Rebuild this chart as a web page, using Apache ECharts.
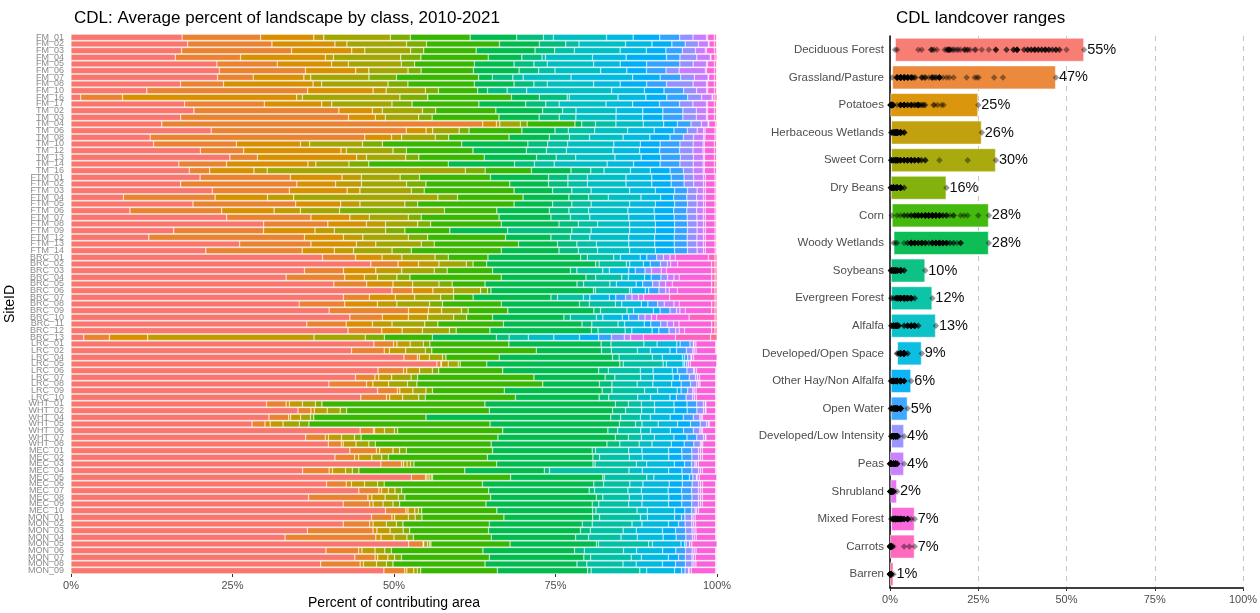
<!DOCTYPE html>
<html>
<head>
<meta charset="utf-8">
<script src="https://cdn.jsdelivr.net/npm/echarts@6/dist/echarts.min.js"></script>
<style>
html, body { margin: 0; padding: 0; background: #fff; }
#main { width: 1260px; height: 613px; }
</style>
</head>
<body>
<div id="main"></div>
<script>
// land cover classes, in stacking order, with the ggplot hue colours
const classes = ['Deciduous Forest', 'Grassland/Pasture', 'Potatoes', 'Herbaceous Wetlands', 'Sweet Corn',
  'Dry Beans', 'Corn', 'Woody Wetlands', 'Soybeans', 'Evergreen Forest', 'Alfalfa', 'Developed/Open Space',
  'Other Hay/Non Alfalfa', 'Open Water', 'Developed/Low Intensity', 'Peas', 'Shrubland', 'Mixed Forest',
  'Carrots', 'Barren'];
const colors = ['#F8766D', '#EA8331', '#D89000', '#C09B00', '#A3A500', '#7CAE00', '#39B600', '#00BB4E',
  '#00BF7D', '#00C1A3', '#00BFC4', '#00BAE0', '#00B0F6', '#35A2FF', '#9590FF', '#C77CFF', '#E76BF3',
  '#FA62DB', '#FF62BC', '#FF6C91'];

// average percent of each class per site (same order as classes)
const fmSites = ['FM_01', 'FM_02', 'FM_03', 'FM_04', 'FM_05', 'FM_06', 'FM_07', 'FM_08', 'FM_10', 'FM_16', 'FM_17'];
const fmShares = [
  [16.7, 11.8, 8, 1.5, 10, 3, 9, 7, 4, 1.5, 8, 4, 4, 3, 2, 2, 0.2, 1, 0.3, 0.1],
  [17.6, 12.7, 9.5, 1.8, 9, 3, 11, 6, 4, 2, 7, 4, 3, 2, 2, 1.5, 0.1, 0.8, 0.3, 0.1],
  [16.9, 16.8, 9.2, 2, 7, 2, 8, 9, 3, 3, 7, 4, 3, 2.5, 2, 1.5, 0.2, 1.2, 0.3, 0.1],
  [15.5, 9.7, 12.6, 1.2, 10, 3, 10, 5, 3, 0.5, 7, 5, 6, 2, 2.5, 2, 0.1, 0.6, 0.3, 0],
  [22, 9.1, 8.2, 2.5, 8, 2, 9, 6, 3, 2, 7, 4, 4, 5, 2, 2, 0.2, 1, 0.3, 0.1],
  [22.7, 13.2, 7.7, 2, 6, 2, 8, 7, 3, 2.5, 7, 4, 3, 3, 2, 4, 0.2, 1.2, 0.3, 0.1],
  [21.4, 5.2, 7.4, 1, 8.5, 4, 12, 2, 3, 1.5, 7, 9, 4, 3, 2, 2, 0.1, 0.8, 0.3, 0.1],
  [16.5, 6.5, 13.5, 1.3, 10, 3, 10, 6, 3, 2, 7, 4, 4, 3, 4, 2, 0.2, 1, 0.3, 0.1],
  [11.6, 24.6, 10, 2, 6, 2, 6, 1.5, 3, 3, 13, 5, 3, 3, 2, 1.5, 0.2, 1, 0.3, 0.1],
  [1.4, 6, 25, 0.8, 14, 4, 12, 4, 4, 0.3, 7, 4, 3, 3, 2, 1.5, 0.1, 0.3, 0.3, 0],
  [17, 11.9, 8.6, 1.5, 9, 3, 10, 7, 3, 2, 7, 4, 4, 3, 2, 2, 0.2, 1, 0.3, 0.1]
];
const tmSites = ['TM_02', 'TM_03', 'TM_04', 'TM_06', 'TM_08', 'TM_10', 'TM_12', 'TM_13', 'TM_14', 'TM_16'];
const tmShares = [
  [18.4, 21.7, 5, 1.5, 6, 2, 9, 7, 3, 2, 6, 4, 3, 3, 2, 1.5, 0.2, 1, 0.3, 0.1],
  [16.4, 25.1, 4, 1.5, 5, 2, 10, 6, 3, 2.5, 6, 4, 3, 3, 2, 1.5, 0.2, 1, 0.3, 0.1],
  [13.3, 47, 2, 0.5, 3, 1, 7, 1, 2, 3, 4, 3, 2, 2, 1.5, 1, 0.1, 1, 0.2, 0],
  [21.2, 29.5, 3, 1, 4, 1.5, 8, 5, 2, 4, 5, 4, 3, 2, 1.5, 1, 0.2, 1.5, 0.2, 0.1],
  [11.8, 32, 4, 1.5, 5, 2, 9, 6, 3, 3, 5, 4, 3, 2, 1.5, 1.5, 0.2, 1.5, 0.2, 0.1],
  [12.5, 12.5, 9.7, 1.4, 8, 3, 12, 10, 3, 3, 7, 4, 3, 3, 2, 1.5, 0.2, 1.5, 0.3, 0.1],
  [19.4, 6.5, 14.6, 0.8, 7, 2, 10, 8, 3, 3, 7, 4, 3, 3, 2, 1.5, 0.2, 1.5, 0.3, 0.1],
  [24.3, 4.2, 15.2, 1.5, 6, 2, 10, 8, 3, 3, 6, 4, 3, 3, 2, 1.5, 0.2, 1.5, 0.3, 0.1],
  [16.3, 7.2, 12.3, 1.2, 5, 3, 12, 10, 3, 3, 8, 4, 4, 3, 2, 1.5, 0.2, 1.5, 0.3, 0.1],
  [17.9, 3.1, 6.7, 2, 30, 3, 7, 6, 3, 2, 4, 3, 3, 2, 1.5, 1.5, 0.2, 1.5, 0.3, 0.1]
];
const ftmSites = ['FTM_01', 'FTM_02', 'FTM_03', 'FTM_04', 'FTM_05', 'FTM_06', 'FTM_07', 'FTM_08', 'FTM_09',
  'FTM_12', 'FTM_13', 'FTM_14'];
const ftmShares = [
  [20, 14, 8, 3, 6, 3, 11, 9, 3, 3, 6, 4, 3, 2, 1.5, 1.5, 0.3, 1.5, 0.2, 0.1],
  [17, 18, 6, 4, 7, 3, 13, 6, 3, 3, 6, 4, 3, 2, 1.5, 1.5, 0.3, 1.5, 0.2, 0.1],
  [22, 12, 9, 2, 8, 2, 14, 6, 3, 3, 6, 4, 3, 2, 1.5, 1, 0.3, 1.5, 0.2, 0.1],
  [8, 14, 8, 4, 22, 3, 10, 7, 3, 3, 5, 3, 2, 2, 1.5, 1, 0.3, 1.5, 0.2, 0.1],
  [19, 16, 7, 3, 7, 2, 15, 6, 3, 3, 6, 4, 3, 2, 1.5, 1, 0.3, 1.5, 0.2, 0.1],
  [9, 14, 8, 4, 6, 16, 8, 8, 3, 3, 6, 4, 3, 2, 1.5, 1, 0.3, 1.5, 0.2, 0.1],
  [24, 13, 6, 3, 6, 2, 12, 8, 3, 3, 6, 4, 3, 2, 1.5, 1, 0.3, 1.5, 0.2, 0.1],
  [30, 10, 6, 3, 5, 2, 11, 9, 3, 3, 5, 4, 3, 2, 1.5, 1, 0.3, 1.5, 0.2, 0.1],
  [16, 14, 8, 3, 8, 3, 7, 9, 10, 3, 6, 4, 3, 2, 1.5, 1, 0.3, 1.5, 0.2, 0.1],
  [12, 24, 6, 3, 7, 3, 12, 7, 3, 3, 6, 4, 3, 2, 1.5, 1, 0.3, 1.5, 0.2, 0.1],
  [26, 11, 7, 3, 7, 2, 13, 6, 3, 3, 5, 4, 3, 2, 1.5, 1, 0.3, 1.5, 0.2, 0.1],
  [21, 15, 5, 3, 6, 3, 14, 9, 3, 3, 5, 4, 3, 2, 1.5, 1, 0.3, 1.5, 0.2, 0.1]
];
const brcSites = ['BRC_01', 'BRC_02', 'BRC_03', 'BRC_04', 'BRC_05', 'BRC_06', 'BRC_07', 'BRC_08', 'BRC_09',
  'BRC_10', 'BRC_11', 'BRC_12', 'BRC_13'];
const brcShares = [
  [38, 5, 4, 3, 5, 2, 6, 14, 1, 4, 1, 3, 1, 1.5, 1, 1, 0.8, 5, 1, 0.3],
  [44, 4, 3, 3, 4, 1, 2, 16, 0.5, 4, 0.5, 2, 1, 1.5, 1, 0.5, 1, 5, 0.5, 0.3],
  [36, 6, 5, 4, 5, 2, 7, 12, 1, 4, 1, 3, 1, 1.5, 1, 1.5, 0.8, 7, 0.5, 0.3],
  [33, 9, 3, 2, 3, 2, 14, 13, 1.5, 4, 1, 2.5, 1, 1.5, 1, 1, 0.8, 5, 0.5, 0.3],
  [40, 5, 4, 3, 4, 2, 5, 14, 1, 4, 1, 3, 1, 1.5, 1, 1, 1, 6, 0.5, 0.3],
  [47, 3, 3, 3, 4, 1, 0.5, 15, 0.3, 5, 0.3, 2, 0.5, 1.5, 1, 0.5, 1.2, 5, 0.5, 0.3],
  [42, 4, 4, 3, 4, 2, 3, 12, 1, 4, 1, 3, 1, 1.5, 1, 1, 0.8, 4, 7, 0.3],
  [35, 7, 5, 3, 5, 2, 9, 12, 1.5, 4, 1, 3, 1, 1.5, 1, 1.5, 0.8, 5, 0.5, 0.3],
  [39, 12, 3, 2, 3, 1, 6, 13, 1, 4, 1, 3, 1, 1.5, 1, 0.5, 0.8, 4, 0.5, 0.3],
  [43, 5, 4, 3, 4, 2, 4, 11, 1, 4, 1, 3, 1, 1.5, 1, 1, 0.8, 5, 4, 0.3],
  [36, 6, 4, 3, 5, 2, 10, 12, 1.5, 4, 1, 3, 1, 1.5, 1, 1, 0.8, 5, 0.5, 0.3],
  [41, 5, 3, 3, 4, 1, 5, 15, 1, 4, 1, 3, 1, 1.5, 1, 0.5, 0.8, 4, 0.5, 0.3],
  [2, 4, 6, 26, 8, 3, 7.5, 10, 2, 3, 4, 4, 3, 2, 2, 1, 2, 5, 5.5, 1]
];
const lrcSites = ['LRC_01', 'LRC_02', 'LRC_04', 'LRC_05', 'LRC_06', 'LRC_07', 'LRC_08', 'LRC_09', 'LRC_10'];
const lrcShares = [
  [46, 3, 0.5, 2, 2, 1, 12, 14, 1.5, 5, 2, 3, 0.5, 1.5, 0.5, 0.1, 0.3, 3, 0.1, 0.1],
  [43, 5, 0.8, 2.5, 3, 1, 16, 10, 1.5, 4, 2, 3, 1, 1.5, 1, 0.2, 0.3, 3, 0.1, 0.1],
  [50, 2, 0.3, 1.5, 2, 0.5, 8, 17, 1, 5, 1.5, 3, 0.3, 0.5, 0.5, 0.1, 0.3, 3.5, 0, 0],
  [55, 0.6, 0.1, 1, 1.5, 0.3, 4, 20, 0.5, 6, 0.5, 2.5, 0.2, 0.3, 0.3, 0, 0.3, 4, 0, 0],
  [48, 4, 0.5, 2, 2, 1, 10, 15, 1.5, 5, 2, 3, 0.8, 1.5, 1, 0.2, 0.3, 3, 0.1, 0.1],
  [44, 3, 0.6, 2, 3, 1, 18, 11, 1.5, 4, 2, 3, 1, 1.5, 1, 0.3, 0.3, 2.5, 0.1, 0.1],
  [41, 6, 1, 2.5, 3, 1.5, 20, 9, 2, 4, 2.5, 3, 1.5, 1.5, 1, 0.3, 0.2, 2.5, 0.1, 0.1],
  [47, 3, 0.4, 2, 2, 1, 11, 15, 1.5, 5, 2, 3, 0.6, 1, 0.8, 0.2, 0.3, 3, 0.1, 0.1],
  [45, 4, 0.5, 2, 2.5, 1, 14, 13, 1.5, 4.5, 2, 3, 1, 1.5, 1, 0.3, 0.3, 3, 0.1, 0.1]
];
const whtSites = ['WHT_01', 'WHT_02', 'WHT_04', 'WHT_05', 'WHT_06', 'WHT_07', 'WHT_08'];
const whtShares = [
  [30, 3, 0.5, 2, 2, 1, 25, 20, 2, 2, 2, 3, 2, 1.5, 1, 0.3, 0.1, 1.5, 0.1, 0.1],
  [35, 2, 0.5, 2, 2, 1, 22, 19, 2, 2.5, 2, 3, 2, 1.5, 1, 0.3, 0.1, 1.5, 0.1, 0.1],
  [30, 3, 0.3, 1.5, 1.5, 0.5, 17, 28, 1.5, 3, 1.5, 3, 2, 1.5, 1, 0.2, 0.2, 2, 0.1, 0.1],
  [28, 2, 0.8, 2, 2.5, 1.5, 28, 20, 2.5, 1, 2.5, 3, 2, 1.5, 1, 0.3, 0.1, 1, 0.1, 0.1],
  [44, 2, 0.2, 1.5, 1.5, 0.5, 16, 16, 1.5, 3.5, 1.5, 3, 2, 1.5, 1, 0.2, 0.2, 2, 0.1, 0.1],
  [36, 3, 0.5, 2, 2, 1, 21, 18, 2, 2, 2, 3, 2, 1.5, 1, 0.3, 0.1, 1.5, 0.1, 0.1],
  [40, 2, 0.3, 2, 2, 1, 18, 18, 2, 3, 2, 3, 2, 1.5, 1, 0.2, 0.2, 2, 0.1, 0.1]
];
const mecSites = ['MEC_01', 'MEC_02', 'MEC_03', 'MEC_04', 'MEC_05', 'MEC_06', 'MEC_07', 'MEC_08', 'MEC_09', 'MEC_10'];
const mecShares = [
  [42, 4, 0.5, 2, 1, 1, 13, 15, 0.5, 5, 2, 4, 2, 1.5, 1, 0.3, 0.3, 2, 0.1, 0.1],
  [40, 3, 0.6, 2, 1.5, 1, 15, 16, 1, 4.5, 2, 4, 2, 1.5, 1, 0.3, 0.3, 2, 0.1, 0.1],
  [45, 3, 0.3, 0.5, 0.5, 0.5, 12, 14, 0.3, 6, 1.5, 4, 1.5, 1, 0.5, 0.2, 0.3, 2.5, 0.1, 0.1],
  [35, 4, 0.5, 2, 1, 1, 16, 12, 0.8, 12, 2, 4, 2, 1.5, 1, 0.3, 0.3, 2, 0.1, 0.1],
  [48, 2, 0.2, 0.3, 0.3, 0.2, 11, 13, 0.2, 6, 1, 4, 1, 0.5, 0.5, 0.1, 0.3, 2.5, 0, 0],
  [39, 3, 0.8, 2, 2, 1, 15, 17, 1.5, 4, 2, 4, 2, 1.5, 1, 0.3, 0.3, 2, 0.1, 0.1],
  [43, 3, 0.4, 1, 1, 1, 13, 15, 0.8, 5, 2, 4, 2, 1.5, 1, 0.3, 0.3, 2, 0.1, 0.1],
  [36, 9, 0.6, 2, 2, 1, 13, 16, 1, 4, 2, 4, 2, 1.5, 1, 0.3, 0.3, 2, 0.1, 0.1],
  [41, 4, 0.5, 1.5, 1.5, 1, 13, 16, 1, 4.5, 2, 4, 2, 1.5, 1, 0.3, 0.3, 2, 0.1, 0.1],
  [46, 3, 0.3, 1, 0.5, 0.5, 11, 14, 0.5, 6, 1.5, 4, 1.5, 1, 0.5, 0.2, 0.3, 2.5, 0.1, 0.1]
];
const monSites = ['MON_01', 'MON_02', 'MON_03', 'MON_04', 'MON_05', 'MON_06', 'MON_07', 'MON_08', 'MON_09'];
const monShares = [
  [44, 3, 0.4, 2, 1, 1, 12, 13, 1, 6, 1, 4, 1, 0.5, 1, 0.2, 0.3, 3, 0.1, 0.1],
  [41, 4, 0.5, 2, 1.5, 1, 13, 14, 1.5, 6, 1.5, 4, 1.5, 1, 1, 0.3, 0.3, 3, 0.1, 0.1],
  [36, 10, 0.6, 2, 2, 1, 12, 14, 1.5, 5, 2, 4, 2, 1.5, 1, 0.3, 0.3, 3, 0.1, 0.1],
  [33, 14, 0.8, 2, 2, 1, 12, 13, 2, 5, 2.5, 4, 2, 1.5, 1, 0.3, 0.3, 3, 0.1, 0.1],
  [47, 2, 0.1, 0.5, 0.3, 0.2, 11, 12, 0.3, 7, 0.5, 4, 0.5, 0.2, 0.5, 0, 0.3, 3.5, 0, 0],
  [39, 5, 0.5, 2, 1.5, 1, 14, 14, 1.5, 6, 2, 4, 2, 1.5, 1, 0.3, 0.3, 3, 0.1, 0.1],
  [42, 3, 0.4, 1.5, 1, 1, 13, 14, 1, 6, 1.5, 4, 1.5, 1, 1, 0.2, 0.3, 3, 0.1, 0.1],
  [38, 6, 0.5, 2, 1.5, 1, 14, 14, 1.5, 5.5, 2, 4, 2, 1.5, 1, 0.3, 0.3, 3, 0.1, 0.1],
  [45, 3, 0.3, 1, 0.5, 0.5, 11, 13, 0.5, 7, 1, 4, 1, 0.5, 0.5, 0.1, 0.3, 3.5, 0.1, 0.1]
];

const sites = [].concat(fmSites, tmSites, ftmSites, brcSites, lrcSites, whtSites, mecSites, monSites);
const shares = [].concat(fmShares, tmShares, ftmShares, brcShares, lrcShares, whtShares, mecShares, monShares);

const chart = echarts.init(document.getElementById('main'));
const font = 'Liberation Sans, Arial, sans-serif';

// left: each site's bar filled to 100%, like position = "fill"
const rowSums = shares.map(r => r.reduce((a, b) => a + b, 0));
const fillSeries = classes.map((c, k) => ({
  name: c,
  type: 'bar',
  stack: 'site',
  xAxisIndex: 0,
  yAxisIndex: 0,
  barCategoryGap: '8%',
  itemStyle: { color: colors[k], borderColor: 'rgba(255,255,255,0.6)', borderWidth: 0.5 },
  data: shares.map((r, i) => r[k] / rowSums[i] * 100)
}));

// right: range of each class over all sites
const mins = classes.map((c, k) => Math.min(...shares.map(r => r[k])));
const maxs = classes.map((c, k) => Math.max(...shares.map(r => r[k])));
const points = [];
classes.forEach((c, k) => shares.forEach(r => points.push([r[k], c])));

const option = {
  animation: false,
  textStyle: { fontFamily: font },
  title: [
    { text: 'CDL: Average percent of landscape by class, 2010-2021', left: 69, top: 5,
      textStyle: { fontSize: 17, fontWeight: 'normal', color: '#000', fontFamily: font } },
    { text: 'CDL landcover ranges', left: 891, top: 5,
      textStyle: { fontSize: 17, fontWeight: 'normal', color: '#000', fontFamily: font } }
  ],
  grid: [
    { left: 71, top: 34, width: 646, height: 540, outerBoundsMode: 'none' },
    { left: 890, top: 36, width: 353, height: 552, outerBoundsMode: 'none' }
  ],
  xAxis: [
    { gridIndex: 0, type: 'value', min: 0, max: 100, interval: 25,
      axisLabel: { formatter: '{value}%', color: '#4d4d4d', fontSize: 11, margin: 6 },
      axisLine: { show: false },
      axisTick: { show: true, length: 3, lineStyle: { color: '#333' } },
      splitLine: { show: false },
      name: 'Percent of contributing area', nameLocation: 'middle', nameGap: 21,
      nameTextStyle: { fontSize: 14, color: '#000' } },
    { gridIndex: 1, type: 'value', min: 0, max: 100, interval: 25,
      axisLabel: { formatter: '{value}%', color: '#4d4d4d', fontSize: 11, margin: 6 },
      axisLine: { show: true, lineStyle: { color: '#000', width: 1.5 } },
      axisTick: { show: true, length: 3, lineStyle: { color: '#333' } },
      splitLine: { show: true, lineStyle: { color: '#c4c4c4', type: [5, 5], width: 1 } } }
  ],
  yAxis: [
    { gridIndex: 0, type: 'category', data: sites, inverse: true,
      axisLabel: { interval: 0, fontSize: 9, color: '#8a8a8a', margin: 7 },
      axisTick: { alignWithLabel: true, interval: 0, length: 4, lineStyle: { color: '#333' } },
      axisLine: { show: false },
      name: 'SiteID', nameLocation: 'middle', nameGap: 50, nameRotate: 90,
      nameTextStyle: { fontSize: 14, color: '#000' } },
    { gridIndex: 1, type: 'category', data: classes, inverse: true,
      axisLabel: { interval: 0, fontSize: 11.5, color: '#4d4d4d', margin: 6 },
      axisTick: { alignWithLabel: true, length: 3, lineStyle: { color: '#333' } },
      axisLine: { show: true, lineStyle: { color: '#000', width: 1.5 } } }
  ],
  series: fillSeries.concat([
    { type: 'bar', stack: 'range', xAxisIndex: 1, yAxisIndex: 1, barWidth: 24, silent: true,
      itemStyle: { color: 'transparent' }, data: mins },
    { type: 'bar', stack: 'range', xAxisIndex: 1, yAxisIndex: 1, barWidth: 24,
      data: classes.map((c, k) => ({
        value: maxs[k] - mins[k],
        itemStyle: { color: colors[k], opacity: 0.95, borderColor: 'rgba(255,255,255,0.55)', borderWidth: 1 }
      })),
      label: { show: true, position: 'right', distance: 3, fontSize: 14.5, color: '#000',
        formatter: p => Math.round(maxs[p.dataIndex]) + '%' } },
    { type: 'scatter', xAxisIndex: 1, yAxisIndex: 1, symbol: 'diamond', symbolSize: 6.5,
      itemStyle: { color: 'rgba(0,0,0,0.5)' }, z: 5, data: points }
  ])
};
chart.setOption(option);
</script>
</body>
</html>
